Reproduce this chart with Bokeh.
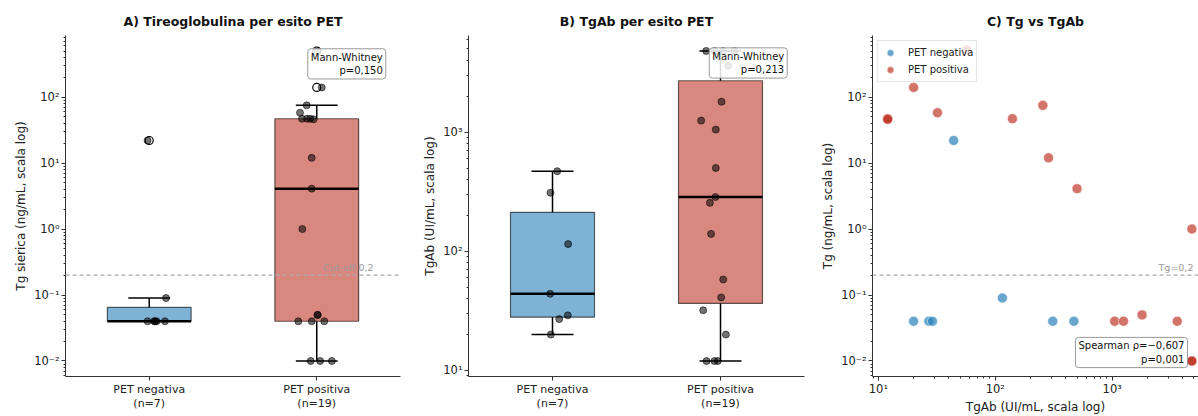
import numpy as np
from bokeh.plotting import figure
from bokeh.models import (Range1d, FixedTicker, CustomJSTickFormatter, Span, Label,
                          Legend, LegendItem)
from bokeh.layouts import row
from bokeh.embed import file_html
from bokeh.resources import INLINE

# ---------------- data ----------------
groups = ["PET negativa", "PET positiva"]
group_n = [7, 19]

tg_neg = [22, 0.09, 0.04, 0.04, 0.04, 0.04, 0.04]
tg_pos = [500, 140, 75, 58, 47, 47, 47, 46, 12, 4.1, 1.0, 0.05, 0.05,
          0.04, 0.04, 0.04, 0.01, 0.01, 0.01]

tgab_neg = [470, 310, 115, 44, 29, 27, 20]
tgab_pos = [4800, 4800, 4800, 4800, 3600, 1800, 1250, 1050, 500, 285, 255,
            140, 58, 41, 32, 20, 12, 12, 12]

# scatter pairs (TgAb, Tg) as visible in panel C
sc_neg_tgab = [20, 27, 29, 44, 115, 310, 470]
sc_neg_tg = [0.04, 0.04, 0.04, 22, 0.09, 0.04, 0.04]
sc_pos_tgab = [12, 12, 12, 20, 32, 57, 140, 255, 285, 500, 1050, 1250, 1800,
               3600, 4800, 4800, 4800, 4800]
sc_pos_tg = [47, 47, 46, 140, 58, 520, 47, 75, 12, 4.1, 0.04, 0.04, 0.05,
             0.04, 1.0, 0.01, 0.01, 0.01]

mw_p_tg = "0,150"
mw_p_tgab = "0,213"
spearman_rho = "\u22120,607"
spearman_p = "0,001"
cutoff = 0.2

# horizontal jitter offsets of the strip points (positions)
jit_a_neg = [-0.01, 0.10, -0.01, 0.034, 0.044, 0.094, 0.03]
jit_a_pos = [0.006, 0.03, -0.06, -0.10, -0.088, -0.058, -0.039, -0.019, -0.03,
             -0.03, -0.086, 0.006, 0.004, -0.11, -0.03, 0.045, -0.036, 0.02, 0.09]
jit_b_neg = [0.028, -0.012, 0.093, -0.014, 0.091, 0.04, -0.01]
jit_b_pos = [-0.085, -0.036, 0.016, 0.083, 0.046, 0.006, -0.115, -0.028, -0.028,
             -0.03, -0.063, -0.056, 0.016, 0.004, -0.103, 0.032, -0.083, -0.036, -0.016]

# ---------------- style ----------------
FONT = "DejaVu Sans"
BLUE = "#2980b9"
RED = "#c0392b"
AX = "#333333"
H = 416
TOP, BOT = 35, 39

SUP = """
const e = Math.round(Math.log10(tick));
const m = {'-':'\u207b','0':'\u2070','1':'\u00b9','2':'\u00b2','3':'\u00b3','4':'\u2074',
           '5':'\u2075','6':'\u2076','7':'\u2077','8':'\u2078','9':'\u2079'};
return '10' + String(e).split('').map(c => m[c]).join('');
"""


def style_axes(p):
    p.outline_line_color = None
    p.xgrid.visible = False
    p.ygrid.visible = False
    p.background_fill_color = "white"
    p.border_fill_color = "white"
    for ax in (p.xaxis[0], p.yaxis[0]):
        ax.axis_line_color = AX
        ax.major_tick_line_color = AX
        ax.minor_tick_line_color = AX
        ax.major_tick_in = 0
        ax.major_tick_out = 4
        ax.minor_tick_in = 0
        ax.minor_tick_out = 2
        ax.major_label_standoff = 2
        ax.axis_label_standoff = 3
        ax.major_label_text_font = FONT
        ax.major_label_text_font_size = "11.5px"
        ax.major_label_text_color = "#222222"
        ax.major_label_text_line_height = 1.0
        ax.axis_label_text_font = FONT
        ax.axis_label_text_font_size = "12px"
        ax.axis_label_text_font_style = "normal"
        ax.axis_label_text_color = "#222222"
        ax.axis_label_text_line_height = 1.0
    p.title.text_font = FONT
    p.title.text_font_size = "12.5px"
    p.title.text_font_style = "bold"
    p.title.align = "center"
    p.title.vertical_align = "top"
    p.title.text_color = "#111111"


def cat_xaxis(p):
    ax = p.xaxis[0]
    ax.ticker = FixedTicker(ticks=[0, 1], minor_ticks=[])
    ax.major_label_overrides = {i: f"{g}\n(n={n})" for i, (g, n) in enumerate(zip(groups, group_n))}
    ax.major_label_text_font_size = "11px"
    ax.major_label_text_line_height = 1.1


def box_stats(vals):
    v = np.array(vals, float)
    q1, med, q3 = np.percentile(v, [25, 50, 75])
    iqr = q3 - q1
    lo_lim, hi_lim = q1 - 1.5 * iqr, q3 + 1.5 * iqr
    inside = v[(v >= lo_lim) & (v <= hi_lim)]
    fliers = v[(v < lo_lim) | (v > hi_lim)]
    return q1, med, q3, inside.min(), inside.max(), fliers


def draw_box(p, pos, vals, jit, color):
    q1, med, q3, lo, hi, fl = box_stats(vals)
    p.quad(left=[pos - 0.25], right=[pos + 0.25], bottom=[q1], top=[q3],
           fill_color=color, fill_alpha=0.6, line_color="black", line_alpha=0.6, line_width=1.2)
    p.segment(x0=[pos, pos], y0=[hi, lo], x1=[pos, pos], y1=[q3, q1],
              line_color="black", line_width=1.5)
    p.segment(x0=[pos - 0.125, pos - 0.125], y0=[hi, lo], x1=[pos + 0.125, pos + 0.125], y1=[hi, lo],
              line_color="black", line_width=1.5)
    p.segment(x0=[pos - 0.25], y0=[med], x1=[pos + 0.25], y1=[med],
              line_color="black", line_width=2.5)
    if len(fl):
        p.scatter(x=[pos] * len(fl), y=list(fl), size=8, fill_color=None,
                  line_color="black", line_width=1.2)
    p.scatter(x=[pos + j for j in jit], y=vals, size=7, fill_color="black",
              fill_alpha=0.55, line_color="black", line_alpha=0.55)


def box_label(p, x, y, text, align="right"):
    p.add_layout(Label(x=x, y=y, text=text, text_align=align, text_baseline="top",
                       text_font=FONT, text_font_size="10px", text_color="#111111",
                       x_offset=-3, y_offset=-3,
                       background_fill_color="white", background_fill_alpha=0.85,
                       border_line_color="#999999", border_line_width=1,
                       padding=3, border_radius=3))


# ---------------- Panel A ----------------
pA = figure(width=410, height=H, min_border_left=65, min_border_right=10,
            min_border_top=TOP, min_border_bottom=BOT,
            x_range=Range1d(-0.5, 1.5), y_range=Range1d(0.00582, 859),
            y_axis_type="log", output_backend="svg", toolbar_location=None,
            title="A) Tireoglobulina per esito PET")
style_axes(pA)
cat_xaxis(pA)
pA.yaxis[0].formatter = CustomJSTickFormatter(code=SUP)
pA.yaxis[0].axis_label = "Tg sierica (ng/mL, scala log)"
pA.add_layout(Span(location=cutoff, dimension="width", line_color="#aaaaaa",
                   line_dash="4 3", line_width=1.2))
draw_box(pA, 0, tg_neg, jit_a_neg, BLUE)
draw_box(pA, 1, tg_pos, jit_a_pos, RED)
pA.add_layout(Label(x=1.339, y=cutoff, text="Cut-off 0,2", text_align="right",
                    text_baseline="bottom", y_offset=2, text_font=FONT,
                    text_font_size="9.5px", text_color="#999999"))
box_label(pA, 1.43, 600, f"Mann-Whitney\np={mw_p_tg}")

# ---------------- Panel B ----------------
pB = figure(width=404, height=H, min_border_left=58, min_border_right=10,
            min_border_top=TOP, min_border_bottom=BOT,
            x_range=Range1d(-0.5, 1.5), y_range=Range1d(8.9, 6470),
            y_axis_type="log", output_backend="svg", toolbar_location=None,
            title="B) TgAb per esito PET")
style_axes(pB)
cat_xaxis(pB)
pB.yaxis[0].formatter = CustomJSTickFormatter(code=SUP)
pB.yaxis[0].axis_label = "TgAb (UI/mL, scala log)"
draw_box(pB, 0, tgab_neg, jit_b_neg, BLUE)
draw_box(pB, 1, tgab_pos, jit_b_pos, RED)
box_label(pB, 1.415, 5400, f"Mann-Whitney\np={mw_p_tgab}")

# ---------------- Panel C ----------------
pC = figure(width=384, height=H, min_border_left=58, min_border_right=0,
            min_border_top=TOP, min_border_bottom=BOT,
            x_range=Range1d(8.9, 5470), y_range=Range1d(0.00582, 859),
            x_axis_type="log", y_axis_type="log", output_backend="svg",
            toolbar_location=None, title="C) Tg vs TgAb")
style_axes(pC)
pC.xaxis[0].formatter = CustomJSTickFormatter(code=SUP)
pC.yaxis[0].formatter = CustomJSTickFormatter(code=SUP)
pC.xaxis[0].axis_label = "TgAb (UI/mL, scala log)"
pC.xaxis[0].major_label_standoff = 1
pC.xaxis[0].axis_label_standoff = 1
pC.yaxis[0].axis_label = "Tg (ng/mL, scala log)"
pC.add_layout(Span(location=cutoff, dimension="width", line_color="#aaaaaa",
                   line_dash="4 3", line_width=1.2))
pC.add_layout(Label(x=4950, y=cutoff, text="Tg=0,2", text_align="right",
                    text_baseline="bottom", y_offset=2, text_font=FONT,
                    text_font_size="9.5px", text_color="#999999"))
rn = pC.scatter(x=sc_neg_tgab, y=sc_neg_tg, size=10, fill_color=BLUE, fill_alpha=0.7,
                line_color="white", line_width=0.5)
rp = pC.scatter(x=sc_pos_tgab, y=sc_pos_tg, size=10, fill_color=RED, fill_alpha=0.7,
                line_color="white", line_width=0.5)
leg = Legend(items=[LegendItem(label=groups[0], renderers=[rn]),
                    LegendItem(label=groups[1], renderers=[rp])],
             location="top_left", label_text_font=FONT, label_text_font_size="10px",
             label_text_color="#222222", glyph_width=18, glyph_height=17,
             label_height=14, label_standoff=9, spacing=0, padding=3, margin=5,
             border_line_color="#cccccc", background_fill_alpha=0.8)
pC.add_layout(leg)
box_label(pC, 4670, 0.0253, f"Spearman \u03c1={spearman_rho}\np={spearman_p}")

layout = row(pA, pB, pC, spacing=0)
open("out.html", "w").write(file_html(layout, INLINE))
